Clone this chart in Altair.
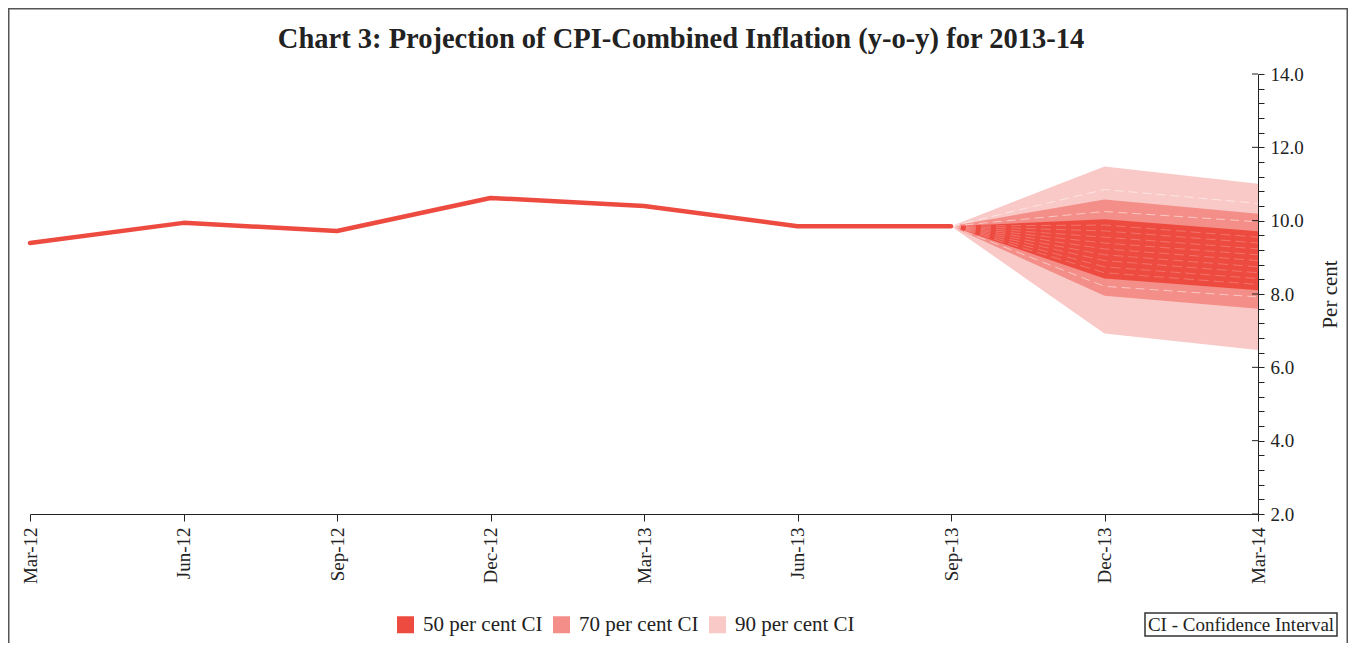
import altair as alt
import pandas as pd

# ---------------- data ----------------
quarters = ["Mar-12", "Jun-12", "Sep-12", "Dec-12", "Mar-13", "Jun-13",
            "Sep-13", "Dec-13", "Mar-14"]

cpi_quarters = ["Mar-12", "Jun-12", "Sep-12", "Dec-12", "Mar-13", "Jun-13", "Sep-13"]
cpi_values = [9.39, 9.94, 9.72, 10.62, 10.40, 9.85, 9.85]

fan_quarters = ["Sep-13", "Dec-13", "Mar-14"]
p05 = [9.85, 6.92, 6.47]
p15 = [9.85, 7.95, 7.60]
p25 = [9.85, 8.42, 8.10]
p75 = [9.85, 10.04, 9.71]
p85 = [9.85, 10.58, 10.19]
p95 = [9.85, 11.48, 11.01]

# dashed percentile lines inside the fan
p20 = [9.85, 8.21, 7.92]
p80 = [9.85, 10.25, 9.97]
p90 = [9.85, 10.85, 10.47]
inner50_dec13 = [8.58, 8.74, 8.91, 9.07, 9.23, 9.39, 9.55, 9.72, 9.88]
inner50_mar14 = [8.26, 8.42, 8.58, 8.74, 8.91, 9.07, 9.23, 9.39, 9.55]
fan_start = 9.85

band_names = ["50 per cent CI", "70 per cent CI", "90 per cent CI"]
band_colors = ["#EE4B40", "#F48E88", "#F9C9C7"]

y_ticks = [2.0, 2.4, 2.8, 3.2, 3.6, 4.0, 4.4, 4.8, 5.2, 5.6, 6.0, 6.4, 6.8,
           7.2, 7.6, 8.0, 8.4, 8.8, 9.2, 9.6, 10.0, 10.4, 10.8, 11.2, 11.6,
           12.0, 12.4, 12.8, 13.2, 13.6, 14.0]
y_major = [2.0, 4.0, 6.0, 8.0, 10.0, 12.0, 14.0]

title_text = "Chart 3: Projection of CPI-Combined Inflation (y-o-y) for 2013-14"
note_text = "CI - Confidence Interval"

# ---------------- tables ----------------
cpi_df = pd.DataFrame({"q": cpi_quarters, "v": cpi_values})

band_rows = []
for name, lo, hi in [(band_names[2], p05, p95),
                     (band_names[1], p15, p85),
                     (band_names[0], p25, p75)]:
    for q, a, b in zip(fan_quarters, lo, hi):
        band_rows.append({"q": q, "band": name, "lo": a, "hi": b})
band_df = pd.DataFrame(band_rows)

outer_rows = []
for i, vals in enumerate([p20, p80, p90]):
    for q, v in zip(fan_quarters, vals):
        outer_rows.append({"q": q, "id": i, "v": v})
outer_df = pd.DataFrame(outer_rows)

inner_rows = []
for i, (d, m) in enumerate(zip(inner50_dec13, inner50_mar14)):
    for q, v in zip(fan_quarters, [fan_start, d, m]):
        inner_rows.append({"q": q, "id": i, "v": v})
inner_df = pd.DataFrame(inner_rows)

major_df = pd.DataFrame({"v": y_major})
one = pd.DataFrame({"d": [0]})

# ---------------- encodings ----------------
FONT = "Liberation Serif"
W, H = 1228, 440

x_axis = alt.Axis(labelAngle=270, labelAlign="right", labelBaseline="middle",
                  tickSize=7, labelPadding=6, domainColor="#222", tickColor="#222",
                  labelFontSize=19, labelColor="#222", title=None, grid=False)
x_enc = alt.X("q:O", sort=quarters,
              scale=alt.Scale(type="point", domain=quarters, padding=0),
              axis=x_axis)

y_scale = alt.Scale(domain=[2, 14], nice=False, zero=False)
y_axis = alt.Axis(orient="right", values=y_ticks,
                  labelExpr="abs(datum.value - round(datum.value / 2) * 2) < 0.01 ? format(datum.value, '.1f') : ''",
                  tickSize=6, labelPadding=6, domainColor="#222", tickColor="#222",
                  labelFontSize=19, labelColor="#222", grid=False,
                  title="Per cent", titleAngle=270, titleX=72, titleY=H / 2,
                  titleAlign="center", titleBaseline="middle",
                  titleFontSize=21, titleFontWeight="normal", titleColor="#222")

color_enc = alt.Color("band:N",
                      scale=alt.Scale(domain=band_names, range=band_colors),
                      legend=alt.Legend(orient="none", legendX=365, legendY=540,
                                        direction="horizontal", title=None,
                                        symbolType="square", symbolSize=289,
                                        symbolStrokeWidth=0, symbolOpacity=1,
                                        labelFontSize=21, labelFont=FONT,
                                        labelColor="#222", labelOffset=7,
                                        columnPadding=8))

layers = []
for name in [band_names[2], band_names[1], band_names[0]]:
    layers.append(
        alt.Chart(band_df).transform_filter(alt.datum.band == name)
        .mark_area(opacity=1, interpolate="linear")
        .encode(x=x_enc,
                y=alt.Y("lo:Q", scale=y_scale, axis=y_axis),
                y2="hi:Q",
                color=color_enc)
    )

outer_dash = alt.Chart(outer_df).mark_line(
    color="white", strokeWidth=1, strokeDash=[9, 5], opacity=0.5
).encode(x=x_enc, y=alt.Y("v:Q", scale=y_scale, axis=y_axis), detail="id:N")

inner_dash = alt.Chart(inner_df).mark_line(
    color="white", strokeWidth=1, strokeDash=[10, 5], opacity=0.22
).encode(x=x_enc, y=alt.Y("v:Q", scale=y_scale, axis=y_axis), detail="id:N")

cpi_layer = alt.Chart(cpi_df).mark_line(
    color="#EE4B40", strokeWidth=4.5, strokeCap="round", strokeJoin="round"
).encode(x=x_enc, y=alt.Y("v:Q", scale=y_scale, axis=y_axis))

major_tick_layer = alt.Chart(major_df).mark_rule(color="#222", strokeWidth=1).encode(
    y=alt.Y("v:Q", scale=y_scale, axis=y_axis),
    x=alt.value(W - 6), x2=alt.value(W))

frame_layer = alt.Chart(one).mark_rect(
    fillOpacity=0, stroke="#555", strokeWidth=1.5, clip=False
).encode(x=alt.value(-21.25), x2=alt.value(1317.25),
         y=alt.value(-65.25), y2=alt.value(800))

title_layer = alt.Chart(one).mark_text(
    text=title_text, font=FONT, fontSize=28.5, fontWeight="bold", color="#222",
    align="center", baseline="alphabetic"
).encode(x=alt.value(651), y=alt.value(-26))

note_box = alt.Chart(one).mark_rect(
    fillOpacity=0, stroke="#333", strokeWidth=1.5
).encode(x=alt.value(1115), x2=alt.value(1307), y=alt.value(539), y2=alt.value(562))

note_text_layer = alt.Chart(one).mark_text(
    text=note_text, font=FONT, fontSize=19, color="#222",
    align="center", baseline="middle"
).encode(x=alt.value(1211), y=alt.value(551))

chart = alt.layer(
    *layers, outer_dash, inner_dash, cpi_layer, major_tick_layer,
    frame_layer, title_layer, note_box, note_text_layer
).resolve_scale(color="shared").properties(
    width=W, height=H,
    padding={"left": 22, "top": 66, "right": 90, "bottom": 129},
    autosize=alt.AutoSizeParams(type="none"),
).configure_view(stroke=None).configure_axis(
    labelFont=FONT, titleFont=FONT
).configure_text(font=FONT)

chart.save("out.html", embed_options={"renderer": "svg", "actions": False})
